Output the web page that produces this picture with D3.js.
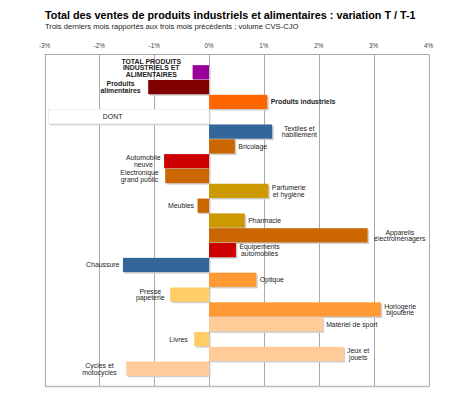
<!DOCTYPE html>
<html>
<head>
<meta charset="utf-8">
<script src="https://cdn.jsdelivr.net/npm/d3@7"></script>
<style>
  body { margin: 0; background: #fff; }
  svg { display: block; font-family: "Liberation Sans", Arial, sans-serif; }
</style>
</head>
<body>
<div id="chart-area"></div>
<script>
/***** Data *****/
const categories = [
  "TOTAL PRODUITS\nINDUSTRIELS ET\nALIMENTAIRES",
  "Produits\nalimentaires",
  "Produits industriels",
  "DONT",
  "Textiles et\nhabillement",
  "Bricolage",
  "Automobile\nneuve",
  "Electronique\ngrand public",
  "Parfumerie\net hygiène",
  "Meubles",
  "Pharmacie",
  "Appareils\nélectroménagers",
  "Equipements\nautomobiles",
  "Chaussure",
  "Optique",
  "Presse\npapeterie",
  "Horlogerie\nbijouterie",
  "Matériel  de sport",
  "Livres",
  "Jeux et\njouets",
  "Cycles et\nmotocycles"
];
// variation T / T-1, in %
const values = [-0.30, -1.11, 1.06, -2.93, 1.15, 0.47, -0.82, -0.80, 1.08, -0.21,
                0.65, 2.89, 0.49, -1.57, 0.86, -0.71, 3.13, 2.07, -0.27, 2.45, -1.51];
const families = ["total", "alim", "indus", "dont", "textile", "maison", "auto", "maison",
                  "sante", "maison", "sante", "maison", "auto", "textile", "loisirA",
                  "culture", "loisirA", "loisirB", "culture", "loisirB", "loisirB"];
const ticks = [-3, -2, -1, 0, 1, 2, 3, 4];
const tickLabels = ["-3%", "-2%", "-1%", "0%", "1%", "2%", "3%", "4%"];

/***** Styles *****/
const palette = {
  total: "#990099", alim: "#800000", indus: "#ff6600", dont: "#ffffff",
  textile: "#336699", maison: "#cc6600", auto: "#cc0000", sante: "#cc9900",
  loisirA: "#ff9933", culture: "#ffcc66", loisirB: "#ffcc99"
};
const boldRows = new Set([0, 1, 2]);
// small hand nudges of some labels [dx, dy]
const labelNudge = { 0: [-8, -4.5], 1: [-4, 0], 4: [6, 0], 7: [-3, 0], 11: [3, 0],
                     15: [-2, 0], 18: [-3, 0], 20: [-6, 0] };

const W = 450, H = 394;
const m = { left: 44.5, right: 428.5, top: 54.5, bottom: 386.5 };

const svg = d3.select("#chart-area").append("svg")
  .attr("width", W).attr("height", H);

const x = d3.scaleLinear().domain([-3, 4]).range([m.left, m.right]);
const y = d3.scaleBand().domain(d3.range(categories.length))
  .range([m.top, m.bottom]).paddingInner(0.04).paddingOuter(0.72);

/***** Titles *****/
svg.append("text").attr("x", 45).attr("y", 19)
  .attr("font-size", 10.8).attr("font-weight", "bold").attr("fill", "#000")
  .text("Total des ventes de produits industriels et alimentaires : variation T / T-1");
svg.append("text").attr("x", 45).attr("y", 29)
  .attr("font-size", 7.6).attr("fill", "#222")
  .text("Trois derniers mois rapportés aux trois mois précédents ; volume CVS-CJO");

/***** Grid & frame *****/
const grid = svg.append("g").attr("stroke", "#a8a8a8").attr("stroke-width", 1);
grid.selectAll("line.v").data(ticks).join("line").attr("class", "v")
  .attr("x1", d => Math.round(x(d)) + 0.5).attr("x2", d => Math.round(x(d)) + 0.5)
  .attr("y1", m.top).attr("y2", m.bottom);
grid.append("line").attr("x1", m.left).attr("x2", m.right + 0.5)
  .attr("y1", m.top).attr("y2", m.top);
grid.append("line").attr("x1", m.left).attr("x2", m.right + 0.5)
  .attr("y1", m.bottom).attr("y2", m.bottom).attr("stroke", "#bbb").attr("stroke-width", 1.5);

svg.append("g").selectAll("text").data(ticks).join("text")
  .attr("x", d => x(d)).attr("y", 48)
  .attr("text-anchor", "middle").attr("font-size", 6.3).attr("fill", "#444")
  .text((d, i) => tickLabels[i]);

/***** Bars *****/
const rows = values.map((v, i) => ({ i, v, name: categories[i], fam: families[i] }));
const gBars = svg.append("g");
gBars.selectAll("rect.shadow").data(rows).join("rect").attr("class", "shadow")
  .attr("x", d => Math.min(x(0), x(d.v)) + 1.5)
  .attr("y", d => y(d.i) + 1.5)
  .attr("width", d => Math.abs(x(d.v) - x(0)))
  .attr("height", y.bandwidth())
  .attr("fill", "#cfcfcf");
gBars.selectAll("rect.bar").data(rows).join("rect").attr("class", "bar")
  .attr("x", d => Math.min(x(0), x(d.v)))
  .attr("y", d => y(d.i))
  .attr("width", d => Math.abs(x(d.v) - x(0)))
  .attr("height", y.bandwidth())
  .attr("fill", d => palette[d.fam])
  .attr("stroke", d => d.fam === "dont" ? "#e4e4e4" : "none")
  .attr("stroke-width", 0.6);

/***** Labels *****/
const lh = 6.6, gap = 3.5;
const gLab = svg.append("g").attr("font-size", 6.9).attr("fill", "#222");
rows.forEach(d => {
  const lines = d.name.split("\n");
  const cy = y(d.i) + y.bandwidth() / 2;
  const t = gLab.append("text")
    .attr("font-weight", boldRows.has(d.i) ? "bold" : "normal")
    .attr("text-anchor", "middle");
  const spans = lines.map((s, k) => t.append("tspan")
    .attr("dominant-baseline", "central")
    .attr("y", cy + (k - (lines.length - 1) / 2) * lh).text(s));
  const bw = d3.max(spans, s => s.node().getComputedTextLength());
  const [dx, dy] = labelNudge[d.i] || [0, 0];
  let cx;
  if (d.fam === "dont") cx = x(-2) + 3.5 + bw / 2;
  else cx = d.v >= 0 ? x(d.v) + gap + bw / 2 : x(d.v) - gap - bw / 2;
  spans.forEach((s, k) => s.attr("x", cx + dx)
    .attr("y", cy + dy + (k - (lines.length - 1) / 2) * lh));
});
</script>
</body>
</html>
